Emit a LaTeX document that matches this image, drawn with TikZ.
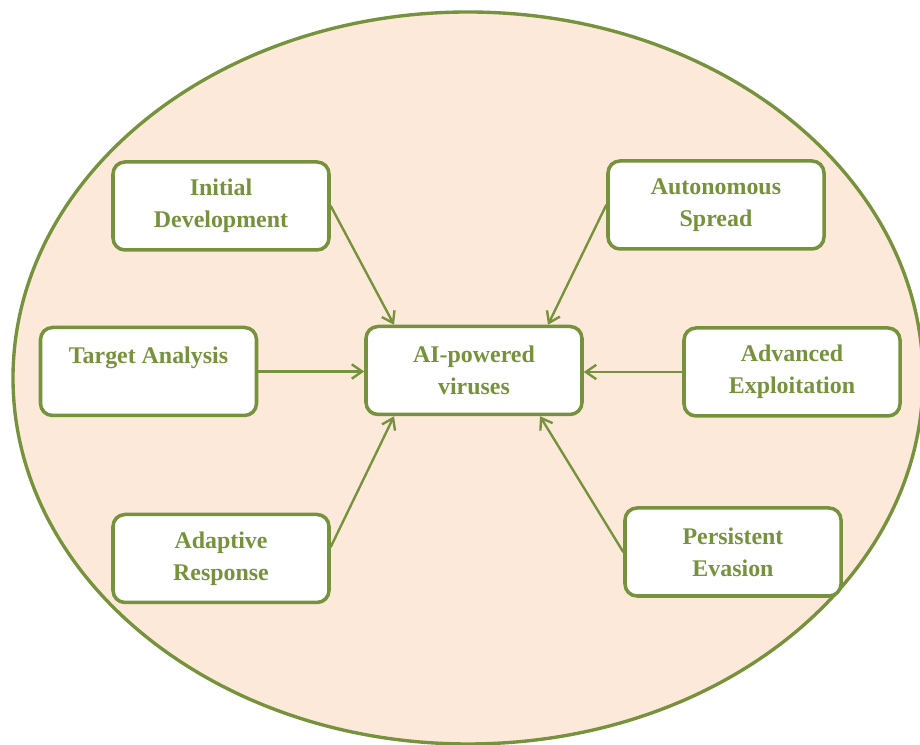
\documentclass[tikz,border=0pt]{standalone}
\usepackage{fontspec}
\setmainfont{Liberation Serif}
\usepackage{tikz}
\usetikzlibrary{arrows.meta}
\usetikzlibrary{shapes,positioning}
\definecolor{olive}{HTML}{76923C}
\definecolor{peach}{HTML}{FDE9D9}
\tikzset{>={Straight Barb[length=2.6mm,width=3.6mm]},
  stage/.style={draw=olive, line width=2.5pt, fill=white, rounded corners=0.3cm,
    minimum width=5.4cm, minimum height=2.2cm, align=center,
    text=olive, font=\fontsize{17}{22.8}\selectfont\bfseries},
  feed/.style={->, draw=olive, line width=1.7pt}}

\begin{document}
\begin{tikzpicture}[line cap=round]

    \useasboundingbox (0,0) rectangle (23,18.625);
    \clip (0,0) rectangle (23,18.625);

	\draw [line width=2.4pt, draw=olive, fill=peach] (11.7,9.175) ellipse (11.375cm and 9.15cm);

	% the stages round the centre
	\node [stage] (ai) at (11.85,9.3625) {AI-powered\\viruses};
	\node [stage] (init) at (5.525,13.475) {Initial\\Development};
	\node [stage] (target) at (3.7125,9.3375) {Target Analysis\\\mbox{}};
	\node [stage] (adapt) at (5.525,4.6625) {Adaptive\\Response};
	\node [stage] (spread) at (17.9,13.5) {Autonomous\\Spread};
	\node [stage] (exploit) at (19.8,9.325) {Advanced\\Exploitation};
	\node [stage] (evasion) at (18.325,4.825) {Persistent\\Evasion};

	\draw [feed] (init.east) -- ([xshift=-2cm]ai.north);
	\draw [feed] (spread.west) -- ([xshift=1.85cm]ai.north);
	\draw [feed] (target.east) -- (target.east -| ai.west);
	\draw [feed] (exploit.west) -- (exploit.west -| ai.east);
	\draw [feed] ([yshift=0.29cm]adapt.east) -- ([xshift=-2cm]ai.south);
	\draw [feed] (evasion.west) -- ([xshift=1.65cm]ai.south);

    \end{tikzpicture}
\end{document}
